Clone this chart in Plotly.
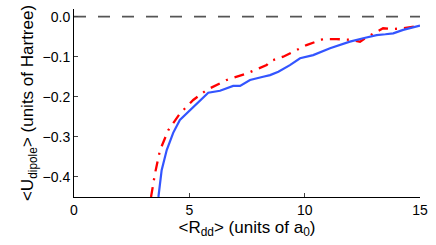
import plotly.graph_objects as go

# Blue solid curve
r_blue = [3.66, 3.80, 4.02, 4.30, 4.59, 5.03, 5.46, 5.82, 6.33, 6.9, 7.2, 7.63, 8.2, 8.5, 8.86, 9.36, 9.8, 10.37, 11.1, 11.96, 12.54, 13.12, 13.5, 13.84, 14.27, 15.0]
u_blue = [-0.45, -0.383, -0.333, -0.29, -0.258, -0.233, -0.208, -0.19, -0.185, -0.173, -0.173, -0.158, -0.150, -0.146, -0.1375, -0.121, -0.104, -0.096, -0.079, -0.0625, -0.054, -0.046, -0.044, -0.0417, -0.033, -0.0225]

# Red dash-dot curve
r_red = [3.34, 3.51, 3.73, 4.09, 4.59, 5.17, 5.75, 6.62, 7.48, 8.35, 8.5, 9.07, 10.08, 10.8, 11.38, 12.0, 12.4, 12.68, 13.4, 13.84, 14.27, 15.0]
u_red = [-0.45, -0.392, -0.333, -0.283, -0.242, -0.208, -0.183, -0.158, -0.142, -0.121, -0.111, -0.100, -0.071, -0.056, -0.056, -0.058, -0.0625, -0.052, -0.029, -0.031, -0.029, -0.0225]

# Reference zero line
r_zero = [0, 15]
u_zero = [0, 0]

x_ticks = [0, 5, 10, 15]
y_ticks = [0.0, -0.1, -0.2, -0.3, -0.4]

fig = go.Figure()
fig.add_trace(go.Scatter(x=r_zero, y=u_zero, mode="lines",
                         line=dict(color="#555555", width=1.6, dash="12px,12px"),
                         showlegend=False, cliponaxis=False))
fig.add_trace(go.Scatter(x=r_red, y=u_red, mode="lines",
                         line=dict(color="#ff0000", width=2.3, dash="10px,7px,2px,7px"),
                         showlegend=False))
fig.add_trace(go.Scatter(x=r_blue, y=u_blue, mode="lines",
                         line=dict(color="#3355ff", width=2.2),
                         showlegend=False))

font = dict(family="Liberation Sans, Arial, sans-serif", size=14, color="black")
fig.update_layout(
    width=436, height=245,
    margin=dict(l=74, r=16, t=9, b=48),
    paper_bgcolor="white", plot_bgcolor="white",
    font=font,
    xaxis=dict(range=[0, 15], tickvals=x_ticks, ticks="inside", ticklen=4,
               showline=True, linecolor="black", linewidth=1, showgrid=False,
               zeroline=False, automargin=False,
               title=dict(text="&lt;R<sub>dd</sub>&gt; (units of a<sub>0</sub>)", standoff=2)),
    yaxis=dict(range=[-0.45, 0.019], tickvals=y_ticks, tickformat=".1f",
               ticks="inside", ticklen=4,
               showline=True, linecolor="black", linewidth=1, showgrid=False,
               zeroline=False, automargin=False,
               title=dict(text="&lt;U<sub>dipole</sub>&gt; (units of Hartree)", standoff=4)),
)
fig.write_html("out.html", config={"displayModeBar": False},
               post_script="document.body.style.margin='0';document.body.style.overflow='hidden';")
